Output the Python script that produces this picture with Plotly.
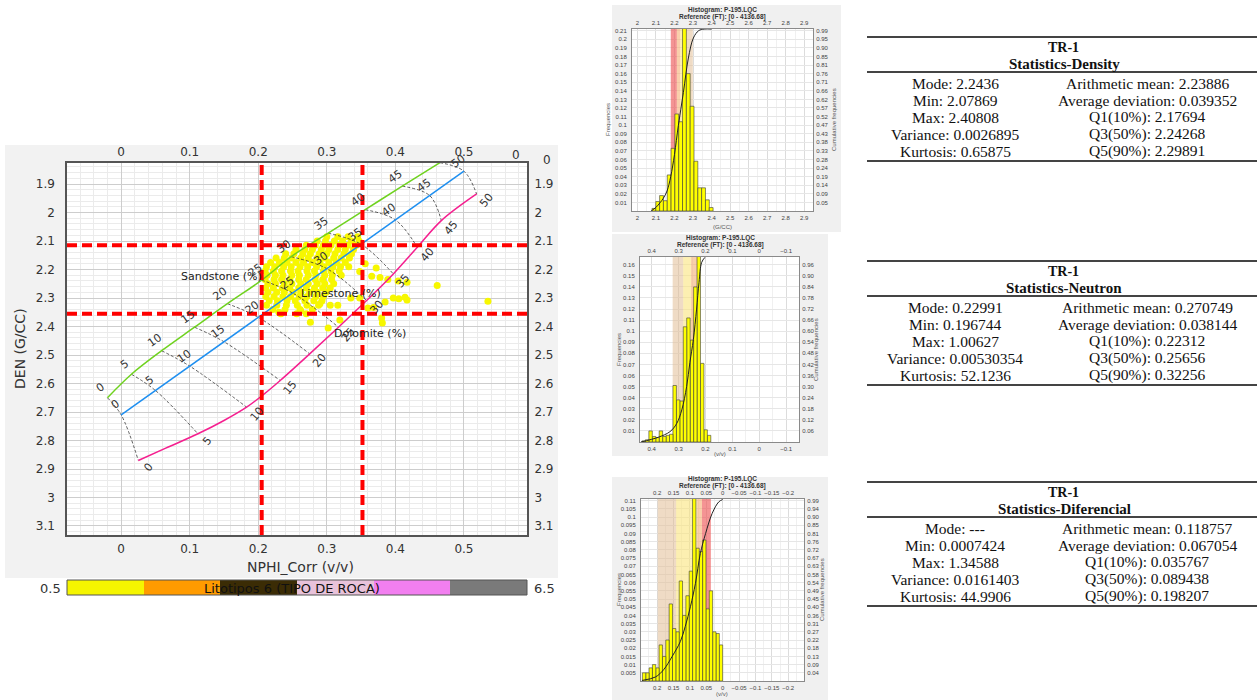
import plotly.graph_objects as go

W, H = 1257, 700


def fx(p):
    return p / W


def fy(p):
    return 1 - p / H


# ---------------- DATA ----------------
iso_phi = [0.0, 0.05, 0.10, 0.15, 0.20, 0.25, 0.30, 0.35, 0.40, 0.45, 0.50]
iso_labels = ["0", "5", "10", "15", "20", "25", "30", "35", "40", "45", "50"]

# Sandstone line
ss_nphi = [-0.020, 0.015, 0.059, 0.107, 0.155, 0.205, 0.248, 0.302, 0.356, 0.410, 0.465]
ss_rhob = [2.650, 2.5675, 2.485, 2.4025, 2.320, 2.2375, 2.155, 2.0725, 1.990, 1.9075, 1.825]
# Limestone line
ls_nphi = [0.0, 0.05, 0.10, 0.15, 0.20, 0.25, 0.30, 0.35, 0.40, 0.45, 0.50]
ls_rhob = [2.710, 2.6245, 2.539, 2.4535, 2.368, 2.2825, 2.197, 2.1115, 2.026, 1.9405, 1.855]
# Dolomite line
dl_phi = [0.0, 0.023, 0.05, 0.075, 0.10, 0.123, 0.15, 0.20, 0.25, 0.30, 0.35, 0.40, 0.45, 0.50]
dl_nphi = [0.025, 0.065, 0.112, 0.150, 0.183, 0.207, 0.232, 0.275, 0.317, 0.358, 0.397, 0.432, 0.467, 0.5185]
dl_rhob = [2.870, 2.827, 2.7765, 2.7298, 2.683, 2.640, 2.5895, 2.496, 2.4025, 2.309, 2.2155, 2.122, 2.0285, 1.935]

# cut-offs
cut_nphi = [0.205, 0.352]
cut_rhob = [2.115, 2.355]

# crossplot points (rows of equal density)
blob_rhob = [2.085, 2.100, 2.115, 2.130, 2.145, 2.160, 2.175, 2.190, 2.205, 2.220,
             2.235, 2.250, 2.265, 2.280, 2.295, 2.310, 2.325, 2.340, 2.355]
blob_nphi = [
    [0.300, 0.316, 0.331, 0.345],
    [0.286, 0.298, 0.311, 0.323, 0.336, 0.347],
    [0.270, 0.283, 0.295, 0.306, 0.318, 0.331, 0.343],
    [0.255, 0.268, 0.279, 0.292, 0.303, 0.316, 0.327, 0.339],
    [0.240, 0.252, 0.265, 0.276, 0.289, 0.300, 0.312, 0.325, 0.336],
    [0.226, 0.238, 0.249, 0.262, 0.273, 0.286, 0.297, 0.310, 0.321, 0.333],
    [0.218, 0.231, 0.242, 0.255, 0.266, 0.279, 0.290, 0.303, 0.314, 0.327],
    [0.212, 0.224, 0.237, 0.248, 0.261, 0.272, 0.285, 0.296, 0.309, 0.320, 0.332],
    [0.210, 0.222, 0.234, 0.247, 0.258, 0.271, 0.282, 0.295, 0.306, 0.318],
    [0.213, 0.225, 0.236, 0.249, 0.260, 0.273, 0.284, 0.297, 0.308, 0.321],
    [0.210, 0.223, 0.234, 0.246, 0.259, 0.270, 0.283, 0.294, 0.307],
    [0.214, 0.225, 0.238, 0.249, 0.262, 0.273, 0.286, 0.297, 0.310],
    [0.211, 0.222, 0.235, 0.246, 0.259, 0.270, 0.282, 0.294, 0.305],
    [0.214, 0.227, 0.238, 0.251, 0.262, 0.275, 0.286, 0.299],
    [0.211, 0.223, 0.236, 0.247, 0.260, 0.271, 0.284, 0.295],
    [0.216, 0.228, 0.242, 0.254, 0.268, 0.281, 0.293],
    [0.212, 0.227, 0.241, 0.257, 0.271, 0.288],
    [0.221, 0.239, 0.261, 0.279],
    [0.233, 0.256, 0.270],
]
out_nphi = [0.3655, 0.3776, 0.389, 0.404, 0.417, 0.461, 0.535, 0.348, 0.385, 0.397,
            0.414, 0.417, 0.405, 0.380, 0.381, 0.276, 0.302, 0.319, 0.360, 0.368,
            0.348, 0.335, 0.316, 0.305, 0.290, 0.262, 0.230, 0.356, 0.372]
out_rhob = [2.2235, 2.228, 2.235, 2.240, 2.245, 2.256, 2.311, 2.207, 2.314, 2.300,
            2.297, 2.307, 2.303, 2.370, 2.388, 2.385, 2.405, 2.377, 2.335, 2.333,
            2.300, 2.300, 2.325, 2.325, 2.320, 2.345, 2.350, 2.180, 2.195]

# lithotype colour bar
cb_values = [1, 2, 3, 4, 5, 6]
cb_colors = ['#f5f500', '#ff9b00', '#3b2c05', '#e8c2da', '#f27ff0', '#7a7a7a']
cb_min, cb_max = 0.5, 6.5

# Histogram 1: density
h1_x = [2.0890, 2.1096, 2.1302, 2.1508, 2.1714, 2.1920, 2.2126, 2.2332, 2.2538, 2.2744,
        2.2950, 2.3156, 2.3362, 2.3568, 2.3774, 2.3980]
h1_f = [0.003, 0.011, 0.018, 0.012, 0.042, 0.073, 0.113, 0.104, 0.215, 0.160,
        0.122, 0.058, 0.027, 0.027, 0.013, 0.004]
h1_w = 0.0206
h1_cx = [2.074, 2.100, 2.122, 2.140, 2.160, 2.180, 2.200, 2.221, 2.248, 2.275, 2.302, 2.330, 2.360, 2.400]
h1_cc = [0.0, 0.02, 0.045, 0.07, 0.11, 0.19, 0.31, 0.47, 0.65, 0.84, 0.95, 0.99, 0.999, 0.999]
h1_yticks = [0.01, 0.02, 0.03, 0.04, 0.05, 0.06, 0.07, 0.08, 0.09, 0.10, 0.11,
             0.12, 0.13, 0.14, 0.15, 0.16, 0.17, 0.18, 0.19, 0.20, 0.21]
h1_rlabels = ["0.05", "0.09", "0.14", "0.19", "0.24", "0.28", "0.33", "0.38", "0.43", "0.47", "0.52",
              "0.57", "0.62", "0.66", "0.71", "0.76", "0.81", "0.85", "0.90", "0.95", "0.99"]
h1_bands = [2.180, 2.213, 2.232, 2.255, 2.299]

# Histogram 2: neutron
h2_x = [0.1865, 0.1993, 0.2121, 0.2249, 0.2377, 0.2505, 0.2633, 0.2761, 0.2889, 0.3017,
        0.3145, 0.3273, 0.3401, 0.3529, 0.3657, 0.3785, 0.3913, 0.4041, 0.4169, 0.4297]
h2_f = [0.006, 0.011, 0.071, 0.289, 0.140, 0.092, 0.112, 0.104, 0.037, 0.038,
        0.051, 0.007, 0.006, 0.005, 0.010, 0.004, 0.005, 0.010, 0.002, 0.001]
h2_w = 0.0128
h2_cx = [0.440, 0.375, 0.332, 0.307, 0.288, 0.270, 0.258, 0.245, 0.233, 0.224, 0.214, 0.202]
h2_cc = [0.0, 0.026, 0.056, 0.10, 0.174, 0.30, 0.43, 0.555, 0.72, 0.864, 0.973, 1.0]
h2_yticks = [0.01, 0.02, 0.03, 0.04, 0.05, 0.06, 0.07, 0.08, 0.09, 0.10, 0.11, 0.12, 0.13, 0.14, 0.15, 0.16]
h2_rlabels = ["0.06", "0.12", "0.18", "0.24", "0.30", "0.36", "0.42", "0.48", "0.54", "0.60", "0.66",
              "0.72", "0.78", "0.84", "0.90", "0.96"]
h2_bands = [0.223, 0.229, 0.254, 0.283, 0.322]

# Histogram 3: differential
h3_x = [0.0051, 0.0153, 0.0255, 0.0357, 0.0459, 0.0561, 0.0663, 0.0765, 0.0867, 0.0969,
        0.1071, 0.1173, 0.1275, 0.1377, 0.1479, 0.1581, 0.1683, 0.1785, 0.1887, 0.1989,
        0.2091, 0.2193, 0.2295, 0.2397]
h3_f = [0.022, 0.029, 0.030, 0.055, 0.044, 0.086, 0.079, 0.081, 0.120, 0.067,
        0.052, 0.040, 0.061, 0.030, 0.032, 0.047, 0.025, 0.015, 0.022, 0.008,
        0.010, 0.008, 0.005, 0.005]
h3_w = 0.0102
h3_cx = [0.246, 0.205, 0.180, 0.154, 0.129, 0.114, 0.098, 0.083, 0.068, 0.052, 0.032, 0.012, 0.0]
h3_cc = [0.003, 0.022, 0.062, 0.135, 0.217, 0.30, 0.41, 0.536, 0.70, 0.81, 0.92, 0.983, 0.996]
h3_yticks = [0.005, 0.01, 0.015, 0.02, 0.025, 0.03, 0.035, 0.04, 0.045, 0.05, 0.055,
             0.06, 0.065, 0.07, 0.075, 0.08, 0.085, 0.09, 0.095, 0.10, 0.105, 0.11]
h3_rlabels = ["0.04", "0.09", "0.13", "0.18", "0.22", "0.27", "0.31", "0.36", "0.40", "0.45", "0.49",
              "0.54", "0.58", "0.63", "0.67", "0.72", "0.76", "0.81", "0.85", "0.90", "0.94", "0.99"]
h3_bands = [0.036, 0.063, 0.078, 0.142, 0.198]

band_colors = ['rgba(238,90,90,0.65)', 'rgba(245,175,115,0.6)',
               'rgba(250,228,125,0.6)', 'rgba(225,190,150,0.55)']

# statistics tables
den_left = ["Mode: 2.2436", "Min: 2.07869", "Max: 2.40808", "Variance: 0.0026895", "Kurtosis: 0.65875"]
den_right = ["Arithmetic mean: 2.23886", "Average deviation: 0.039352", "Q1(10%): 2.17694",
             "Q3(50%): 2.24268", "Q5(90%): 2.29891"]
neu_left = ["Mode: 0.22991", "Min: 0.196744", "Max: 1.00627", "Variance: 0.00530354", "Kurtosis: 52.1236"]
neu_right = ["Arithmetic mean: 0.270749", "Average deviation: 0.038144", "Q1(10%): 0.22312",
             "Q3(50%): 0.25656", "Q5(90%): 0.32256"]
dif_left = ["Mode: ---", "Min: 0.0007424", "Max: 1.34588", "Variance: 0.0161403", "Kurtosis: 44.9906"]
dif_right = ["Arithmetic mean: 0.118757", "Average deviation: 0.067054", "Q1(10%): 0.035767",
             "Q3(50%): 0.089438", "Q5(90%): 0.198207"]

# ---------------- FIGURE ----------------
fig = go.Figure()
shapes = []
ann = []
MAINFONT = 'DejaVu Sans'
SMALL = dict(family='Liberation Sans', size=6, color='#444')


def rect(x0, y0, x1, y1, fill, line=None, layer='below', lw=1):
    shapes.append(dict(type='rect', xref='paper', yref='paper', x0=fx(x0), x1=fx(x1),
                       y0=fy(y1), y1=fy(y0), fillcolor=fill, layer=layer,
                       line=dict(width=lw if line else 0, color=line or 'rgba(0,0,0,0)')))


rect(5, 145, 558, 578, '#f2f2f2')
rect(67, 163, 527, 535, 'white')
rect(612, 5, 841, 232, '#f0f0f0')
rect(632, 29, 813, 211, 'white')
rect(612, 234, 828, 456, '#f0f0f0')
rect(640, 257, 799, 442, 'white')
rect(612, 477, 828, 700, '#f0f0f0')
rect(641, 499, 804, 681, 'white')

# ---- main crossplot ----
pts_x, pts_y = [], []
for r, xs in zip(blob_rhob, blob_nphi):
    pts_x += xs
    pts_y += [r] * len(xs)
pts_x += out_nphi
pts_y += out_rhob
fig.add_trace(go.Scatter(x=pts_x, y=pts_y, mode='markers', xaxis='x', yaxis='y',
                         marker=dict(size=7, color='#f7f700', line=dict(width=0)),
                         hoverinfo='skip', showlegend=False))

for i, p in enumerate(iso_phi):
    j = dl_phi.index(p)
    fig.add_trace(go.Scatter(x=[ss_nphi[i], ls_nphi[i], dl_nphi[j]],
                             y=[ss_rhob[i], ls_rhob[i], dl_rhob[j]],
                             mode='lines', line=dict(color='#333', width=0.8, dash='3px,2px', shape='spline'),
                             xaxis='x', yaxis='y', hoverinfo='skip', showlegend=False))

fig.add_trace(go.Scatter(x=ss_nphi, y=ss_rhob, mode='lines', line=dict(color='#6fd21f', width=1.5, shape='spline'),
                         xaxis='x', yaxis='y', hoverinfo='skip', showlegend=False))
fig.add_trace(go.Scatter(x=ls_nphi, y=ls_rhob, mode='lines', line=dict(color='#1e8ff0', width=1.5),
                         xaxis='x', yaxis='y', hoverinfo='skip', showlegend=False))
fig.add_trace(go.Scatter(x=dl_nphi, y=dl_rhob, mode='lines', line=dict(color='#f51f8f', width=1.5, shape='spline'),
                         xaxis='x', yaxis='y', hoverinfo='skip', showlegend=False))
fig.add_trace(go.Scatter(x=[None], y=[None], xaxis='x2', yaxis='y2', showlegend=False, hoverinfo='skip'))

for v in cut_nphi:
    shapes.append(dict(type='line', xref='x', yref='y domain', x0=v, x1=v, y0=0, y1=1, layer='above',
                       line=dict(color='#ff0000', width=4, dash='10px,5px')))
for v in cut_rhob:
    shapes.append(dict(type='line', xref='x domain', yref='y', x0=0, x1=1, y0=v, y1=v, layer='above',
                       line=dict(color='#ff0000', width=4, dash='10px,5px')))


def iso_label(x, y, t, dx, dy, ang):
    ann.append(dict(x=x, y=y, xref='x', yref='y', text=t, showarrow=False, xshift=dx, yshift=dy,
                    textangle=ang, font=dict(family=MAINFONT, size=11, color='#333')))


for i in range(10):
    iso_label(ss_nphi[i], ss_rhob[i], iso_labels[i], -7, 10, -35)
for i in range(11):
    iso_label(ls_nphi[i], ls_rhob[i], iso_labels[i], -6, 10, -35)
for i, p in enumerate(iso_phi):
    j = dl_phi.index(p)
    iso_label(dl_nphi[j], dl_rhob[j], iso_labels[i], 10, -7, -50)

for t, x, y in [("Sandstone (%)", 0.1458, 2.2246), ("Limestone (%)", 0.3207, 2.284), ("Dolomite (%)", 0.363, 2.426)]:
    ann.append(dict(x=x, y=y, xref='x', yref='y', text=t, showarrow=False,
                    font=dict(family=MAINFONT, size=11, color='#222')))


def pann(x, y, t, size=12, color='#333', fam=MAINFONT, ang=0, xa='center'):
    ann.append(dict(x=fx(x), y=fy(y), xref='paper', yref='paper', text=t, showarrow=False,
                    textangle=ang, xanchor=xa, yanchor='middle',
                    font=dict(family=fam, size=size, color=color)))


pann(300, 567, "NPHI_Corr (v/v)", 14)
pann(20, 349, "DEN (G/CC)", 14, ang=-90)
pann(516, 155, "0", 12)
pann(547, 160, "0", 12)

# colour bar
cscale = []
n = len(cb_colors)
for k, c in enumerate(cb_colors):
    cscale += [[k / n, c], [(k + 1) / n, c]]
fig.add_trace(go.Heatmap(z=[cb_values], x=cb_values, y=[0], xaxis='x3', yaxis='y3', zmin=cb_min, zmax=cb_max,
                         colorscale=cscale, showscale=False, hoverinfo='skip'))
rect(67, 580, 527, 595, 'rgba(0,0,0,0)', line='#555', layer='above')
pann(50, 588, str(cb_min), 13)
pann(544, 588, str(cb_max), 13)
pann(292, 588, "Litotipos 6 (TIPO DE ROCA)", 13, color='#111')


# ---- histograms ----
def add_hist(n, xs, fs, w, cx, cc, bands, ytop):
    # quantile bands (drawn as full-height bars behind the histogram)
    bc = [(bands[k] + bands[k + 1]) / 2 for k in range(4)]
    bw = [abs(bands[k + 1] - bands[k]) for k in range(4)]
    fig.add_trace(go.Bar(x=bc, y=[ytop] * 4, width=bw, xaxis=f'x{n}', yaxis=f'y{n}',
                         marker=dict(color=band_colors, line=dict(width=0)),
                         hoverinfo='skip', showlegend=False))
    fig.add_trace(go.Bar(x=xs, y=fs, width=w, xaxis=f'x{n}', yaxis=f'y{n}',
                         marker=dict(color='#ffff00', line=dict(color='#3a3a3a', width=0.6)),
                         hoverinfo='skip', showlegend=False))
    fig.add_trace(go.Scatter(x=cx, y=cc, mode='lines', xaxis=f'x{n}', yaxis=f'y{n+1}',
                             line=dict(color='#222', width=1, shape='spline'), hoverinfo='skip', showlegend=False))
    fig.add_trace(go.Scatter(x=[None], y=[None], xaxis=f'x{n+1}', yaxis=f'y{n}', showlegend=False, hoverinfo='skip'))


add_hist(4, h1_x, h1_f, h1_w, h1_cx, h1_cc, h1_bands, 0.212)
add_hist(6, h2_x, h2_f, h2_w, h2_cx, h2_cc, h2_bands, 0.167)
add_hist(8, h3_x, h3_f, h3_w, h3_cx, h3_cc, h3_bands, 0.111)

layout_axes = {}


def hist_axes(n, xd, yd, xr, xdt, xmin, yr, yticks, rlabels, factor):
    layout_axes[f'xaxis{n}'] = dict(domain=[fx(xd[0]), fx(xd[1])], anchor=f'y{n}', range=xr, tick0=0, dtick=xdt,
                                    showgrid=True, gridcolor='#dcdcdc', gridwidth=0.6,
                                    minor=dict(dtick=xmin, showgrid=True, gridcolor='#f0f0f0', gridwidth=0.5),
                                    showline=True, linecolor='#8a8a8a', linewidth=1, mirror=True, zeroline=False,
                                    tickfont=SMALL, ticks='outside', ticklen=1, tickcolor='rgba(0,0,0,0)')
    layout_axes[f'yaxis{n}'] = dict(domain=[fy(yd[1]), fy(yd[0])], anchor=f'x{n}', range=yr, tickvals=yticks,
                                    showgrid=True, gridcolor='#e6e6e6', gridwidth=0.5,
                                    showline=True, linecolor='#8a8a8a', linewidth=1, mirror=True, zeroline=False,
                                    tickfont=SMALL, ticks='outside', ticklen=3, tickcolor='rgba(0,0,0,0)')
    layout_axes[f'xaxis{n+1}'] = dict(overlaying=f'x{n}', anchor=f'y{n}', side='top', range=xr, tick0=0, dtick=xdt,
                                      showgrid=False, zeroline=False, tickfont=SMALL,
                                      ticks='outside', ticklen=1, tickcolor='rgba(0,0,0,0)')
    layout_axes[f'yaxis{n+1}'] = dict(overlaying=f'y{n}', anchor=f'x{n}', side='right',
                                      range=[yr[0] * factor, yr[1] * factor],
                                      tickvals=[v * factor for v in yticks], ticktext=rlabels,
                                      showgrid=False, zeroline=False, tickfont=SMALL,
                                      ticks='outside', ticklen=1, tickcolor='rgba(0,0,0,0)')


hist_axes(4, (632, 813), (29, 211), [1.971, 2.947], 0.1, 0.05, [0, 0.212], h1_yticks, h1_rlabels, 0.99 / 0.21)
hist_axes(6, (640, 799), (257, 442), [0.4435, -0.148], 0.1, 0.05, [0, 0.167], h2_yticks, h2_rlabels, 6.0)
hist_axes(8, (641, 804), (499, 681), [0.249, -0.248], 0.05, 0.025, [0, 0.111], h3_yticks, h3_rlabels, 9.0)

TITLEF = 'Liberation Sans'
for (cxp, t1, t2, xl, xly, frx, crx, cy) in [
        (722, 10, 17, "(G/CC)", 227, 608, 834, 120),
        (720, 238, 245, "(v/v)", 454, 619, 816, 350),
        (722, 479, 486, "(v/v)", 694, 619, 822, 590)]:
    pann(cxp, t1, "<b>Histogram: P-195.LQC</b>", 6.5, '#333', TITLEF)
    pann(cxp, t2, "<b>Reference (FT): [0 - 4136.68]</b>", 6.5, '#333', TITLEF)
    pann(cxp, xly, xl, 6, '#555', TITLEF)
    pann(frx, cy, "Frequencies", 6, '#555', TITLEF, ang=-90)
    pann(crx, cy, "Cumulative frequencies", 6, '#555', TITLEF, ang=-90)

# ---- statistics tables ----
SERIF = 'Liberation Serif'
for top, title, L, R in [(37, "Statistics-Density", den_left, den_right),
                         (261, "Statistics-Neutron", neu_left, neu_right),
                         (482, "Statistics-Diferencial", dif_left, dif_right)]:
    for yy in (top, top + 35, top + 124):
        shapes.append(dict(type='line', xref='paper', yref='paper', x0=fx(867), x1=1.0, y0=fy(yy), y1=fy(yy),
                           line=dict(color='#444', width=2), layer='above'))
    pann(1063, top + 10.5, "<b>TR-1</b>", 14, '#111', SERIF)
    pann(1064, top + 26.5, "<b>" + title + "</b>", 15, '#111', SERIF)
    for i in range(5):
        pann(955, top + 46.6 + i * 16.85, L[i], 15.5, '#111', SERIF)
        pann(1147, top + 46.6 + i * 16.85, R[i], 15.5, '#111', SERIF)

main_tick = dict(family=MAINFONT, size=12, color='#333')
fig.update_layout(
    width=W, height=H, margin=dict(l=0, r=0, t=0, b=0),
    paper_bgcolor='white', plot_bgcolor='rgba(0,0,0,0)',
    font=dict(family=MAINFONT), showlegend=False, barmode='overlay',
    xaxis=dict(domain=[fx(67), fx(527)], anchor='y', range=[-0.079, 0.592], tick0=0, dtick=0.1,
               showgrid=True, gridcolor='#cdcdcd', gridwidth=1,
               minor=dict(dtick=0.02, showgrid=True, gridcolor='#ebebeb', gridwidth=1),
               showline=True, linecolor='#555', linewidth=1.5, mirror=True, zeroline=False,
               tickfont=main_tick, ticks='outside', ticklen=2, tickcolor='rgba(0,0,0,0)'),
    yaxis=dict(domain=[fy(535), fy(163)], anchor='x', range=[3.1316, 1.8263], tick0=0, dtick=0.1,
               showgrid=True, gridcolor='#cdcdcd', gridwidth=1,
               minor=dict(dtick=0.02, showgrid=True, gridcolor='#ebebeb', gridwidth=1),
               showline=True, linecolor='#555', linewidth=1.5, mirror=True, zeroline=False,
               tickfont=main_tick, ticks='outside', ticklen=8, tickcolor='rgba(0,0,0,0)'),
    xaxis2=dict(overlaying='x', anchor='y2', side='top', range=[-0.079, 0.592], tick0=0, dtick=0.1,
                showgrid=False, zeroline=False, tickfont=main_tick, ticks='outside', ticklen=1,
                tickcolor='rgba(0,0,0,0)'),
    yaxis2=dict(overlaying='y', anchor='x2', side='right', range=[3.1316, 1.8263], tick0=0, dtick=0.1,
                showgrid=False, zeroline=False, tickfont=main_tick, ticks='outside', ticklen=4,
                tickcolor='rgba(0,0,0,0)'),
    xaxis3=dict(domain=[fx(67), fx(527)], anchor='y3', range=[cb_min, cb_max], visible=False),
    yaxis3=dict(domain=[fy(595), fy(580)], anchor='x3', range=[-0.5, 0.5], visible=False),
    shapes=shapes, annotations=ann,
)
fig.update_layout(**layout_axes)

fig.write_html("out.html", config={'displayModeBar': False},
               post_script="document.body.style.margin='0';document.body.style.overflow='hidden';")
